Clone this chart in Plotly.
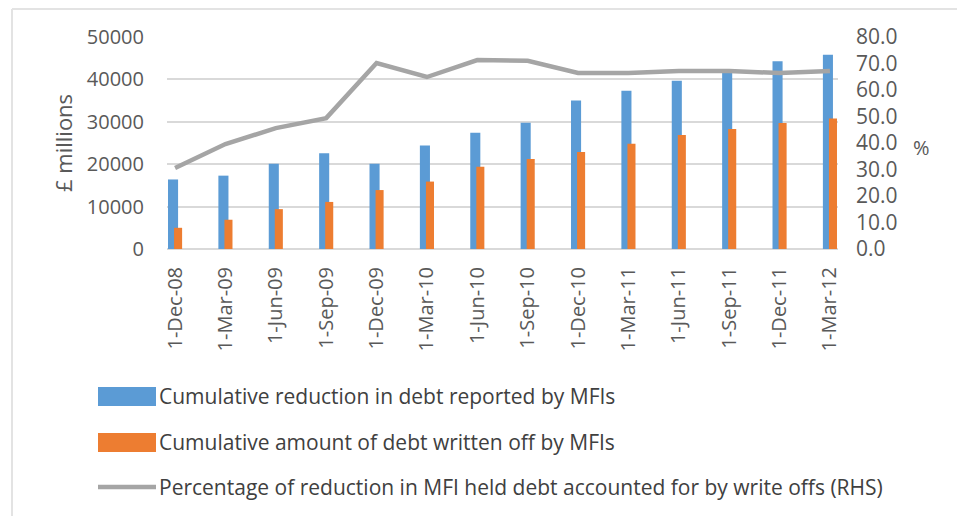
import plotly.graph_objects as go

categories = ["1-Dec-08", "1-Mar-09", "1-Jun-09", "1-Sep-09", "1-Dec-09", "1-Mar-10", "1-Jun-10",
              "1-Sep-10", "1-Dec-10", "1-Mar-11", "1-Jun-11", "1-Sep-11", "1-Dec-11", "1-Mar-12"]
reduction = [16400, 17300, 20100, 22600, 20100, 24400, 27400, 29800, 35000, 37300, 39700, 42200, 44300, 45800]
written_off = [5000, 6900, 9400, 11100, 13900, 15900, 19400, 21200, 22900, 24800, 26900, 28300, 29700, 30800]
percentage = [30.6, 39.6, 45.6, 49.4, 70.2, 64.9, 71.3, 71.0, 66.4, 66.4, 67.2, 67.2, 66.4, 67.2]
left_ticks = [0, 10000, 20000, 30000, 40000, 50000]
right_ticks = [0, 10, 20, 30, 40, 50, 60, 70, 80]

names = ["Cumulative reduction in debt reported by MFIs",
         "Cumulative amount of debt written off by MFIs",
         "Percentage of reduction in MFI held debt accounted for by write offs (RHS)"]
BLUE, ORANGE, GREY = "#5b9bd5", "#ed7d31", "#a5a5a5"
TXT = "#595959"
FONT = "Open Sans"

# the page body has an 8px margin; positions below are in reference-window pixels
OFF = 8
WIN_W, WIN_H = 965, 516
W, H = WIN_W - OFF, WIN_H - OFF
X0, X1, YT, YB = 167, 838, 37, 249


def px(x):
    return (x - X0) / (X1 - X0)


def py(y):
    return (YB - y) / (YB - YT)


fig = go.Figure()
fig.add_trace(go.Bar(x=categories, y=reduction, name=names[0], marker_color=BLUE,
                     marker_line_width=0, offset=-0.14, width=0.2))
fig.add_trace(go.Bar(x=categories, y=written_off, name=names[1], marker_color=ORANGE,
                     marker_line_width=0, offset=-0.02, width=0.16))
fig.add_trace(go.Scatter(x=categories, y=percentage, name=names[2], yaxis="y2", mode="lines",
                         line=dict(color=GREY, width=4.5)))

fig.update_layout(
    width=W, height=H,
    margin=dict(l=X0 - OFF, r=WIN_W - X1, t=YT - OFF, b=WIN_H - YB),
    paper_bgcolor="white", plot_bgcolor="white",
    barmode="overlay", showlegend=False,
    font=dict(family=FONT, color=TXT),
    xaxis=dict(type="category", range=[-0.16, 13.16], tickangle=-90, showgrid=False,
               showline=False, zeroline=False, ticks="", ticklabelstandoff=13,
               tickfont=dict(size=20, color=TXT)),
    yaxis=dict(range=[0, 50000], tickvals=left_ticks, tickformat="d", showgrid=True,
               gridcolor="#d9d9d9", gridwidth=1.5, zeroline=True, zerolinecolor="#d9d9d9",
               zerolinewidth=1.5, showline=False, ticks="", ticklabelstandoff=22,
               tickfont=dict(size=20, color=TXT)),
    yaxis2=dict(range=[0, 80], tickvals=right_ticks, tickformat=".1f", overlaying="y",
                side="right", showgrid=False, zeroline=False, showline=False, ticks="",
                ticklabelstandoff=17, tickfont=dict(size=21, color=TXT)),
)

shapes = []
# chart border (top and left only visible)
shapes.append(dict(type="line", xref="paper", yref="paper", x0=px(12), x1=px(965), y0=py(9), y1=py(9),
                   line=dict(color="#e3e3e3", width=2)))
shapes.append(dict(type="line", xref="paper", yref="paper", x0=px(12), x1=px(12), y0=py(9), y1=py(516),
                   line=dict(color="#e3e3e3", width=2)))
# legend swatches
shapes.append(dict(type="rect", xref="paper", yref="paper", x0=px(98), x1=px(156), y0=py(406), y1=py(387),
                   fillcolor=BLUE, line=dict(width=0)))
shapes.append(dict(type="rect", xref="paper", yref="paper", x0=px(98), x1=px(156), y0=py(452), y1=py(433),
                   fillcolor=ORANGE, line=dict(width=0)))
shapes.append(dict(type="line", xref="paper", yref="paper", x0=px(98), x1=px(156), y0=py(487), y1=py(487),
                   line=dict(color=GREY, width=4.5)))

annotations = []
for name, yc in zip(names, [396, 442, 487]):
    annotations.append(dict(text=name, xref="paper", yref="paper", x=px(157), y=py(yc),
                            xanchor="left", yanchor="middle", showarrow=False,
                            font=dict(size=21, color="#404040", family=FONT)))
annotations.append(dict(text="£ millions", xref="paper", yref="paper", x=px(63), y=py(143),
                        xanchor="center", yanchor="middle", textangle=-90, showarrow=False,
                        font=dict(size=22, color=TXT, family=FONT)))
annotations.append(dict(text="%", xref="paper", yref="paper", x=px(921), y=py(147),
                        xanchor="center", yanchor="middle", showarrow=False,
                        font=dict(size=20, color=TXT, family=FONT)))

fig.update_layout(shapes=shapes, annotations=annotations)
fig.write_html("out.html")
